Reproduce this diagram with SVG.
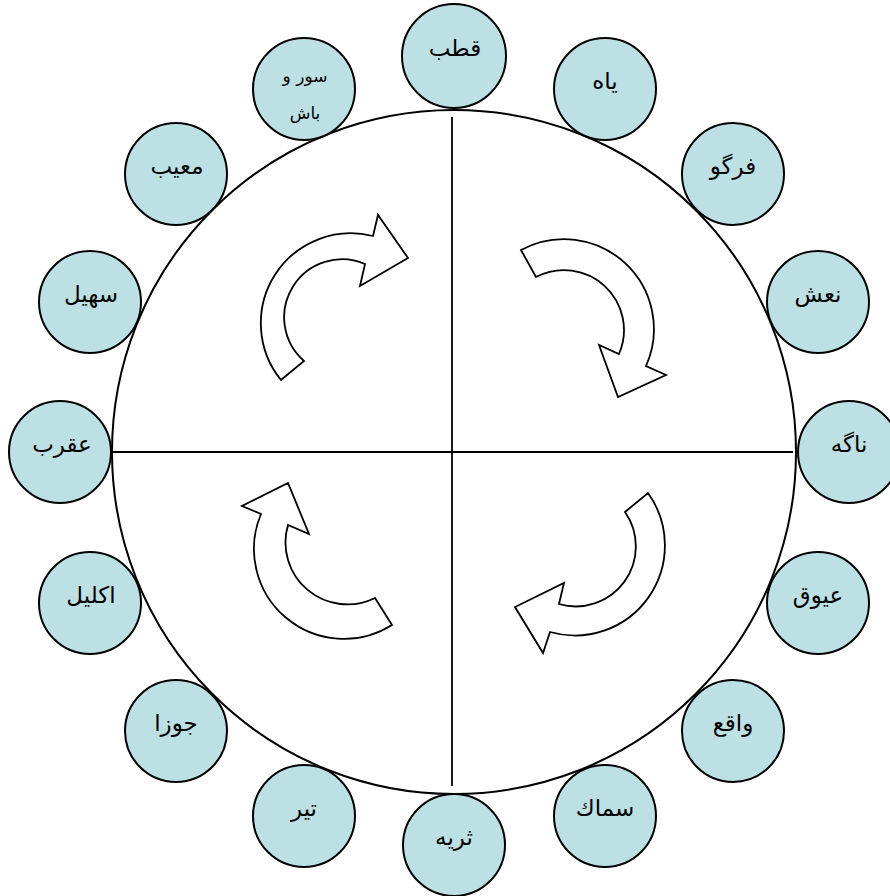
<svg xmlns="http://www.w3.org/2000/svg" width="890" height="896" viewBox="0 0 890 896">
<style>
.n{fill:#BCE0E4;stroke:#000;stroke-width:2}
.t{font-family:"DejaVu Sans","Noto Sans",sans-serif;font-size:23px;fill:#000;text-anchor:middle;dominant-baseline:central}
.s{font-size:17px}
.c{fill:#fff;stroke:#000;stroke-width:2}
.l{stroke:#000;stroke-width:1.8;fill:none}
.a{fill:#fff;stroke:#000;stroke-width:1.8;stroke-linejoin:miter}
</style>
<rect width="890" height="896" fill="#fff"/>
<g id="wheel">
<circle class="c" cx="454" cy="452" r="342"/>
</g>
<g id="connectors">
<line class="l" x1="452" y1="117" x2="452" y2="786"/>
<line class="l" x1="112" y1="452" x2="793" y2="452"/>
<path class="a" d="M281,380 A90,90 0 0 1 373,236 L378,215 L408,258 L360,286 L365,264 A58,58 0 0 0 304,361 Z"/>
<path class="a" d="M521,250 A90,90 0 0 1 646,366 L666,375 L618,397 L599,345 L619,354 A60,60 0 0 0 536,277 Z"/>
<path class="a" d="M648,493 A90,90 0 0 1 550,632 L543,653 L515,607 L564,583 L559,604 A60,60 0 0 0 625,512 Z"/>
<path class="a" d="M392,625 A90,90 0 0 1 261,514 L242,506 L288,483 L309,534 L288,525 A62,62 0 0 0 375,598 Z"/>
</g>
<g id="n-qotb"><circle class="n" cx="454" cy="56" r="52"/><text class="t" x="455" y="48">قطب</text></g>
<g id="n-yah"><circle class="n" cx="605" cy="89" r="51"/><text class="t" x="605" y="81">یاه</text></g>
<g id="n-fargo"><circle class="n" cx="733" cy="174" r="51"/><text class="t" x="733" y="166">فرگو</text></g>
<g id="n-nash"><circle class="n" cx="818" cy="302" r="51"/><text class="t" x="818" y="294">نعش</text></g>
<g id="n-nagah"><circle class="n" cx="849" cy="452" r="51"/><text class="t" x="849" y="444">ناگه</text></g>
<g id="n-ayuq"><circle class="n" cx="818" cy="603" r="51"/><text class="t" x="818" y="595">عیوق</text></g>
<g id="n-vaqe"><circle class="n" cx="733" cy="731" r="51"/><text class="t" x="733" y="723">واقع</text></g>
<g id="n-samak"><circle class="n" cx="605" cy="816" r="51"/><text class="t" x="605" y="808">سماك</text></g>
<g id="n-soraya"><circle class="n" cx="454" cy="845" r="51"/><text class="t" x="454" y="837">ثریه</text></g>
<g id="n-tir"><circle class="n" cx="304" cy="816" r="51"/><text class="t" x="304" y="808">تیر</text></g>
<g id="n-jowza"><circle class="n" cx="176" cy="731" r="51"/><text class="t" x="176" y="723">جوزا</text></g>
<g id="n-eklil"><circle class="n" cx="90" cy="603" r="51"/><text class="t" x="91" y="595">اکلیل</text></g>
<g id="n-aqrab"><circle class="n" cx="60" cy="452" r="51"/><text class="t" x="62" y="444">عقرب</text></g>
<g id="n-soheil"><circle class="n" cx="90" cy="302" r="51"/><text class="t" x="91" y="294">سهیل</text></g>
<g id="n-moayyeb"><circle class="n" cx="176" cy="174" r="51"/><text class="t" x="177" y="166">معیب</text></g>
<g id="n-surobash"><circle class="n" cx="304" cy="89" r="51"/><text class="t s" x="305" y="76">سور و</text><text class="t s" x="305" y="113">باش</text></g>
</svg>
